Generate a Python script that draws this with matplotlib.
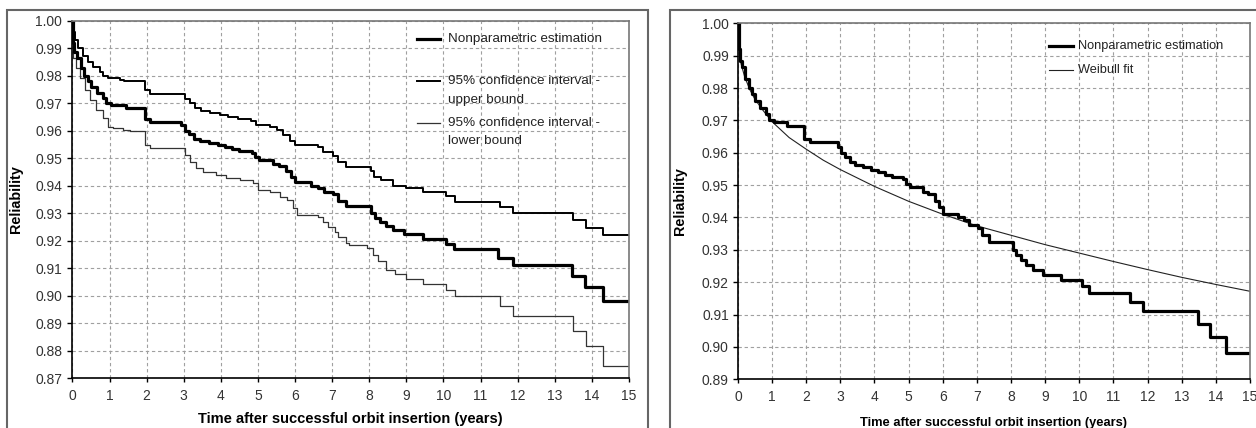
import matplotlib
matplotlib.use("Agg")
import matplotlib.pyplot as plt
from matplotlib.patches import Rectangle
import numpy as np

plt.rcParams['font.family'] = ['Liberation Sans', 'DejaVu Sans']

# Kaplan-Meier style estimate: step times (years) and reliability after each step
km_t = [0.00, 0.02, 0.05, 0.13, 0.22, 0.32, 0.42, 0.51, 0.66, 0.81, 0.90, 1.05,
        1.44, 1.95, 2.10, 2.92, 3.02, 3.14, 3.28, 3.43, 3.67, 3.91, 4.10, 4.30,
        4.50, 4.83, 4.93, 5.03, 5.41, 5.56, 5.76, 5.90, 6.00, 6.44, 6.63, 6.78,
        7.02, 7.15, 7.37, 8.05, 8.15, 8.29, 8.44, 8.63, 8.93, 9.46, 10.07, 10.28,
        11.48, 11.87, 13.47, 13.82, 14.30]
km_r = [1.000, 0.992, 0.9885, 0.9864, 0.9828, 0.9800, 0.9780, 0.9760, 0.9738, 0.9720,
        0.9700, 0.9694, 0.9682, 0.9642, 0.9632, 0.9619, 0.9600, 0.9586, 0.9570, 0.9563,
        0.9555, 0.9546, 0.9539, 0.9532, 0.9526, 0.9519, 0.9503, 0.9495, 0.9480, 0.9472,
        0.9452, 0.9431, 0.9412, 0.9400, 0.9392, 0.9377, 0.9369, 0.9345, 0.9325, 0.9300,
        0.9284, 0.9269, 0.9253, 0.9238, 0.9223, 0.9207, 0.9188, 0.9168, 0.9138, 0.9110,
        0.9072, 0.9032, 0.8982]

# 95% confidence interval, upper bound
up_t = [0.00, 0.02, 0.06, 0.15, 0.28, 0.42, 0.55, 0.73, 0.82, 0.96, 1.27, 1.40,
        1.95, 2.10, 3.02, 3.16, 3.29, 3.47, 3.70, 3.97, 4.19, 4.46, 4.82, 4.96,
        5.32, 5.50, 5.68, 5.86, 6.00, 6.62, 6.76, 7.03, 7.16, 7.37, 8.05, 8.14,
        8.32, 8.63, 8.99, 9.44, 10.07, 10.30, 11.51, 11.87, 13.49, 13.83, 14.30]
up_r = [1.000, 0.996, 0.993, 0.990, 0.987, 0.9851, 0.9833, 0.9815, 0.9800, 0.9791,
        0.9785, 0.9779, 0.9748, 0.9734, 0.9716, 0.9700, 0.9682, 0.9670, 0.9663, 0.9657,
        0.9651, 0.9643, 0.9635, 0.9621, 0.9615, 0.9603, 0.9584, 0.9563, 0.9548, 0.9542,
        0.9524, 0.9506, 0.9487, 0.9467, 0.9452, 0.9433, 0.9421, 0.9399, 0.9391, 0.9375,
        0.9361, 0.9342, 0.9322, 0.9302, 0.9276, 0.9245, 0.9221]

# 95% confidence interval, lower bound
lo_t = [0.00, 0.01, 0.10, 0.19, 0.33, 0.46, 0.64, 0.82, 0.96, 1.09, 1.36, 1.54,
        1.95, 2.10, 3.02, 3.16, 3.34, 3.52, 3.88, 4.15, 4.51, 4.87, 5.00, 5.32,
        5.59, 5.77, 5.95, 6.04, 6.62, 6.76, 6.89, 7.07, 7.16, 7.38, 7.46, 7.95,
        8.09, 8.23, 8.45, 8.68, 8.99, 9.44, 10.07, 10.30, 11.51, 11.87, 13.49,
        13.83, 14.30]
lo_r = [1.000, 0.9864, 0.9827, 0.9791, 0.9748, 0.9712, 0.9675, 0.9645, 0.9615, 0.9609,
        0.9603, 0.9597, 0.9548, 0.9536, 0.9512, 0.9487, 0.9463, 0.9451, 0.9439, 0.9427,
        0.9421, 0.9408, 0.9384, 0.9378, 0.9360, 0.9348, 0.9317, 0.9293, 0.9287, 0.9269,
        0.9251, 0.9233, 0.9214, 0.9193, 0.9185, 0.9173, 0.9148, 0.9124, 0.9094, 0.9079,
        0.9060, 0.9043, 0.9021, 0.8997, 0.8961, 0.8924, 0.8870, 0.8815, 0.8745]

# Weibull fit
wb_t = [0, 0.01, 0.05, 0.1, 0.2, 0.35, 0.5, 0.75, 1, 1.5, 2, 2.5, 3, 4, 5, 6, 7,
        8, 9, 10, 11, 12, 13, 14, 15]
wb_r = [1.000, 0.9945, 0.9900, 0.9872, 0.9834, 0.9795, 0.9765, 0.9729, 0.9696, 0.9647,
        0.9611, 0.9577, 0.9548, 0.9496, 0.9450, 0.9410, 0.9374, 0.9345, 0.9316, 0.9290,
        0.9264, 0.9239, 0.9215, 0.9193, 0.9172]

T_END = 15
x_ticks = list(range(0, 16))


def steps(t, r):
    return np.append(t, T_END), np.append(r, r[-1])


def style_axes(ax, ylo, label_fs, ypad):
    ax.set_xlim(0, T_END)
    ax.set_ylim(ylo, 1.0)
    ax.set_xticks(x_ticks)
    ax.set_yticks(np.round(np.arange(ylo, 1.0001, 0.01), 2))
    ax.yaxis.set_major_formatter(matplotlib.ticker.FormatStrFormatter('%.2f'))
    ax.grid(True, color='#a0a0a0', linestyle=(0, (3, 2.5)), linewidth=0.8)
    ax.set_axisbelow(True)
    for s in ['top', 'right']:
        ax.spines[s].set_color('#777777')
        ax.spines[s].set_linewidth(1.2)
    for s in ['left', 'bottom']:
        ax.spines[s].set_color('black')
        ax.spines[s].set_linewidth(1.2)
    ax.tick_params(axis='y', direction='out', length=3.5, width=1, pad=ypad,
                   labelsize=label_fs, labelcolor='#333333')
    ax.tick_params(axis='x', direction='out', length=3, width=1, pad=5,
                   labelsize=label_fs, labelcolor='#333333')


fig = plt.figure(figsize=(12.56, 4.28), dpi=100)

# panel frames
fig.patches.append(Rectangle((7 / 1256, -0.05), (648 - 7) / 1256, 1.05 - 10 / 428,
                             transform=fig.transFigure, fill=False,
                             edgecolor='#666666', linewidth=1.5))
fig.patches.append(Rectangle((670 / 1256, -0.05), 1.0, 1.05 - 10 / 428,
                             transform=fig.transFigure, fill=False,
                             edgecolor='#666666', linewidth=1.5))

# ---- left panel
ax1 = fig.add_axes([0.0577, 0.1168, 0.4431, 0.8348])
style_axes(ax1, 0.87, 10, 4)
x, y = steps(lo_t, lo_r)
ax1.step(x, y, where='post', color='#333333', linewidth=0.9)
x, y = steps(up_t, up_r)
ax1.step(x, y, where='post', color='black', linewidth=1.4)
x, y = steps(km_t, km_r)
ax1.step(x, y, where='post', color='black', linewidth=2.3)
ax1.set_xlabel('Time after successful orbit insertion (years)', fontsize=10.5,
               fontweight='bold')
ax1.xaxis.set_label_coords(0.5, -0.095)
ax1.set_ylabel('Reliability', fontsize=10.4, fontweight='bold')
ax1.yaxis.set_label_coords(-0.089, 0.5)

leg1 = [(0.949, None, 'black', 2.3, 'Nonparametric estimation'),
        (0.831, 0.778, 'black', 1.4, '95% confidence interval -', 'upper bound'),
        (0.714, 0.663, '#333333', 0.9, '95% confidence interval -', 'lower bound')]
for item in leg1:
    yy, y2, c, lw, txt = item[:5]
    ax1.plot([0.619, 0.660], [yy, yy], color=c, linewidth=lw,
             transform=ax1.transAxes, clip_on=False)
    ax1.text(0.675, yy, txt, transform=ax1.transAxes, fontsize=9.7,
             va='center', ha='left', color='#222222')
    if y2 is not None:
        ax1.text(0.675, y2, item[5], transform=ax1.transAxes, fontsize=9.7,
                 va='center', ha='left', color='#222222')

# ---- right panel
ax2 = fig.add_axes([0.5875, 0.1138, 0.4077, 0.8318])
style_axes(ax2, 0.89, 10, 3)
ax2.plot(wb_t, wb_r, color='#222222', linewidth=0.8)
x, y = steps(km_t, km_r)
ax2.step(x, y, where='post', color='black', linewidth=2.3)
ax2.set_xlabel('Time after successful orbit insertion (years)', fontsize=9.3,
               fontweight='bold')
ax2.xaxis.set_label_coords(0.5, -0.105)
ax2.set_ylabel('Reliability', fontsize=10.4, fontweight='bold')
ax2.yaxis.set_label_coords(-0.0994, 0.5)

leg2 = [(0.936, 'black', 2.3, 'Nonparametric estimation'),
        (0.869, '#222222', 0.8, 'Weibull fit')]
for yy, c, lw, txt in leg2:
    ax2.plot([0.6075, 0.654], [yy, yy], color=c, linewidth=lw,
             transform=ax2.transAxes, clip_on=False)
    ax2.text(0.664, yy, txt, transform=ax2.transAxes, fontsize=9.2,
             va='center', ha='left', color='#222222')

fig.savefig('out.png', dpi=100)
